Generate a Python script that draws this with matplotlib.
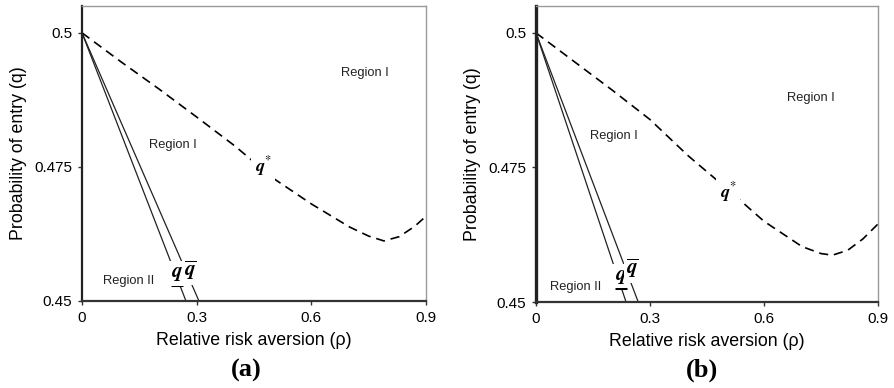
import matplotlib
matplotlib.use("Agg")
import matplotlib.pyplot as plt
from matplotlib.transforms import ScaledTranslation

plt.rcParams['font.family'] = ['Liberation Sans', 'DejaVu Sans']
plt.rcParams['mathtext.fontset'] = 'stix'

# data
rho_a = [0, 0.1, 0.2, 0.3, 0.4, 0.5, 0.6, 0.7, 0.75, 0.79, 0.83, 0.87, 0.9]
qstar_a = [0.5, 0.4947, 0.4896, 0.4843, 0.4789, 0.4729, 0.4681, 0.4638, 0.4621, 0.4612, 0.4620, 0.4639, 0.4658]
rho_b = [0, 0.1, 0.2, 0.3, 0.4, 0.5, 0.6, 0.7, 0.75, 0.78, 0.82, 0.86, 0.9]
qstar_b = [0.5, 0.4947, 0.4894, 0.4839, 0.4772, 0.4712, 0.4650, 0.4603, 0.4590, 0.4587, 0.4596, 0.4617, 0.4645]

# straight boundaries q_ (lower) and q-bar (upper)
qlow_a_x, qlow_a_y = [0, 0.272], [0.5, 0.45]
qbar_a_x, qbar_a_y = [0, 0.306], [0.5, 0.45]
qlow_b_x, qlow_b_y = [0, 0.237], [0.5, 0.45]
qbar_b_x, qbar_b_y = [0, 0.269], [0.5, 0.45]

xticks = [0, 0.3, 0.6, 0.9]
xticklabels = ['0', '0.3', '0.6', '0.9']
yticks = [0.45, 0.475, 0.5]
yticklabels = ['0.45', '0.475', '0.5']

panels = [
    dict(rect=[82/894, 1-301/388, 344/894, 295/388], rho=rho_a, q=qstar_a,
         low=(qlow_a_x, qlow_a_y), bar=(qbar_a_x, qbar_a_y),
         qlow_pos=(0.249, 0.4551), qbar_pos=(0.284, 0.4557), qstar_pos=(0.474, 0.4751),
         regions=[(0.741, 0.4925, 'Region I'), (0.238, 0.4791, 'Region I'), (0.123, 0.4537, 'Region II')],
         letter='(a)', lx=246/894, lw=1.6),
    dict(rect=[536/894, 1-302/388, 342/894, 296/388], rho=rho_b, q=qstar_b,
         low=(qlow_b_x, qlow_b_y), bar=(qbar_b_x, qbar_b_y),
         qlow_pos=(0.224, 0.4548), qbar_pos=(0.254, 0.4562), qstar_pos=(0.505, 0.4704),
         regions=[(0.724, 0.4879, 'Region I'), (0.205, 0.4809, 'Region I'), (0.105, 0.4528, 'Region II')],
         letter='(b)', lx=702/894, lw=2.4),
]

fig = plt.figure(figsize=(8.94, 3.88), dpi=100)

for p in panels:
    ax = fig.add_axes(p['rect'])
    ax.plot(p['rho'], p['q'], color='black', lw=1.2, ls=(0, (5.5, 3.5)))
    ax.plot(*p['low'], color='#222222', lw=0.9)
    ax.plot(*p['bar'], color='#222222', lw=0.9)

    ax.set_xlim(0, 0.9)
    ax.set_ylim(0.45, 0.505)
    ax.set_xticks(xticks)
    ax.set_xticklabels(xticklabels)
    ax.set_yticks(yticks)
    ax.set_yticklabels(yticklabels)
    ax.tick_params(length=3, width=1, labelsize=11, color='#333333', pad=4)

    for s in ['top', 'right']:
        ax.spines[s].set_color('#999999')
        ax.spines[s].set_linewidth(1.0)
    ax.spines['left'].set_linewidth(p['lw'])
    ax.spines['bottom'].set_linewidth(1.6)
    ax.spines['left'].set_color('#222222')
    ax.spines['bottom'].set_color('#333333')

    ax.set_xlabel('Relative risk aversion (\u03c1)', fontsize=12.8, labelpad=5)
    ax.set_ylabel('Probability of entry (q)', fontsize=12.8, labelpad=5)

    for x, y, t in p['regions']:
        ax.text(x, y, t, fontsize=9.3, ha='center', va='center', color='#222222')

    wb = dict(facecolor='white', edgecolor='none', pad=2)
    ax.text(*p['qlow_pos'], r'$\mathbfit{q}$', fontsize=15, ha='center', va='center', bbox=wb)
    # underline of q_ as a short bar below the letter
    under = ax.transData + ScaledTranslation(0, -8.5/72, fig.dpi_scale_trans)
    ax.plot([p['qlow_pos'][0]], [p['qlow_pos'][1]], marker='_', ms=8, mew=2.2,
            color='black', transform=under)
    ax.text(*p['qbar_pos'], r'$\overline{\mathbfit{q}}$', fontsize=15, ha='center', va='center', bbox=wb)
    ax.text(*p['qstar_pos'], r'$\mathbfit{q}^{*}$', fontsize=13, ha='center', va='center',
            bbox=dict(facecolor='white', edgecolor='none', pad=2.5))

    fig.text(p['lx'], 1 - 370/388, p['letter'], fontsize=19, fontweight='bold',
             family='Liberation Serif', ha='center', va='center')

fig.savefig('out.png', dpi=100)
